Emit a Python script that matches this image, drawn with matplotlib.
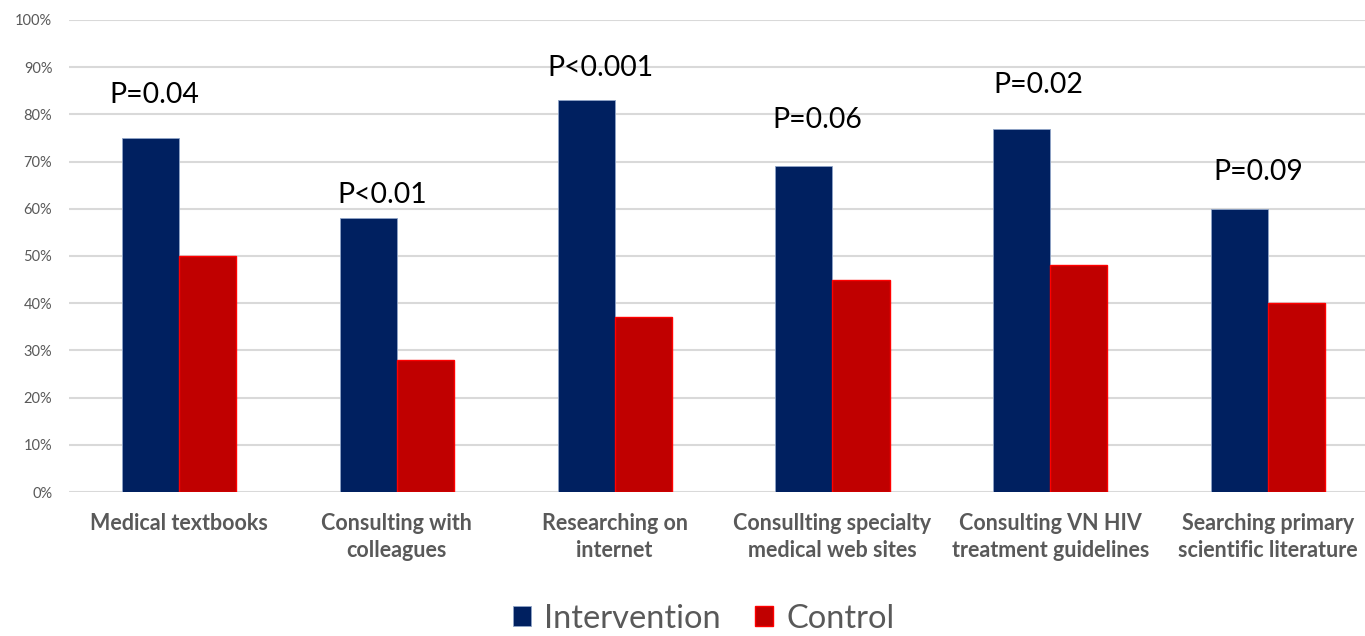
import matplotlib
matplotlib.use("Agg")
import matplotlib.pyplot as plt
import numpy as np

categories = ["Medical textbooks", "Consulting with\ncolleagues", "Researching on\ninternet",
              "Consullting specialty\nmedical web sites", "Consulting VN HIV\ntreatment guidelines",
              "Searching primary\nscientific literature"]
intervention = [75, 58, 83, 69, 77, 60]
control = [50, 28, 37, 45, 48, 40]
p_labels = ["P=0.04", "P<0.01", "P<0.001", "P=0.06", "P=0.02", "P=0.09"]
p_label_x = [-0.112, 0.932, 1.933, 2.929, 3.944, 4.954]
p_label_y = [84.1, 62.9, 89.8, 78.8, 86.2, 67.8]
yticks = [0, 10, 20, 30, 40, 50, 60, 70, 80, 90, 100]

plt.rcParams['font.family'] = ['Lato', 'DejaVu Sans']

fig = plt.figure(figsize=(13.65, 6.36), dpi=100)
ax = fig.add_axes([69 / 1365, 0.2264, 1 - 69 / 1365, 0.7422])

x = np.arange(len(categories))
w = 0.262
ax.bar(x - w/2, intervention, w, color="#002060", edgecolor="#8fa4c8", linewidth=0.6,
       label="Intervention", zorder=3)
ax.bar(x + w/2, control, w, color="#c00000", edgecolor="#ff0000", linewidth=1.0,
       label="Control", zorder=3)

for lab, xx, yy in zip(p_labels, p_label_x, p_label_y):
    ax.text(xx, yy, lab, ha="center", va="center", fontsize=20.4, color="black")

ax.set_xlim(-0.505, 5.445)
ax.set_ylim(0, 100)
ax.set_yticks(yticks)
ax.set_yticklabels([f"{v}%" for v in yticks], fontsize=10.5, color="#595959")
ax.set_xticks(x)
ax.set_xticklabels(categories, fontsize=15.5, fontweight="bold", color="#595959", linespacing=1.35)
ax.tick_params(axis="both", length=0)
ax.tick_params(axis="x", pad=15)
ax.tick_params(axis="y", pad=12)
ax.yaxis.grid(True, color="#d9d9d9", linewidth=1.5, zorder=0)
for s in ax.spines.values():
    s.set_visible(False)

leg = fig.legend(loc="center", bbox_to_anchor=(0.5155, 0.027), ncol=2, frameon=False,
                 fontsize=23.5, handlelength=0.55, handleheight=0.55, handletextpad=0.4,
                 columnspacing=1.05, borderpad=0.0)
for t in leg.get_texts():
    t.set_color("#595959")

fig.savefig("out.png", dpi=100)
